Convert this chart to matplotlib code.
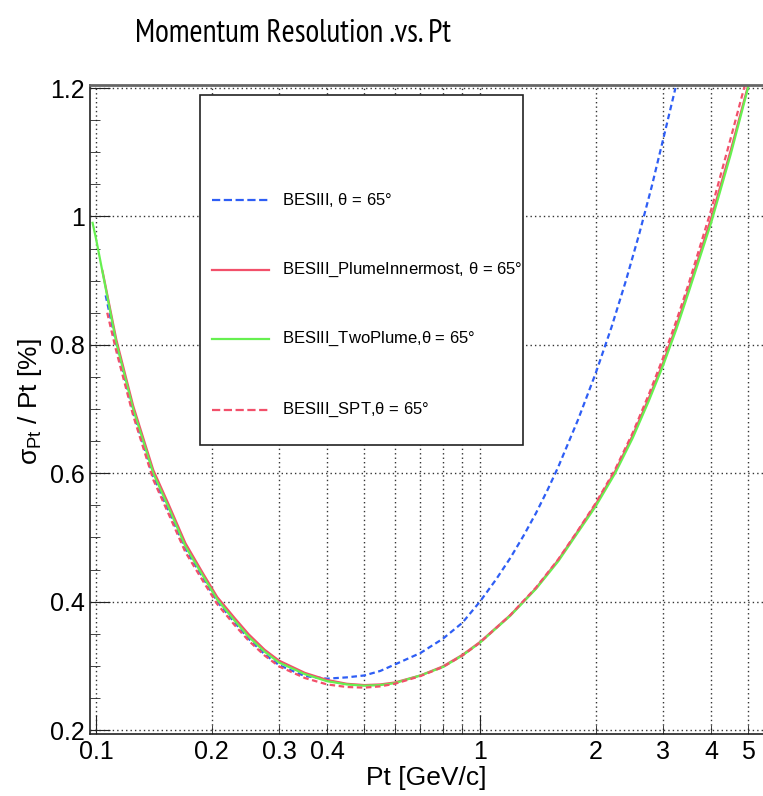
import matplotlib
matplotlib.use("Agg")
import matplotlib.pyplot as plt
from matplotlib import font_manager
from matplotlib.textpath import TextPath
from matplotlib.patches import Rectangle
from matplotlib.lines import Line2D

plt.rcParams['font.family'] = ['Liberation Sans', 'DejaVu Sans']
plt.rcParams['mathtext.fontset'] = 'custom'
plt.rcParams['mathtext.rm'] = 'Liberation Sans'
plt.rcParams['mathtext.it'] = 'Liberation Sans'

# data
pt_bes = [0.106, 0.113, 0.125, 0.141, 0.155, 0.171, 0.19, 0.207, 0.23, 0.25, 0.275, 0.3, 0.35, 0.4,
          0.45, 0.5, 0.55, 0.6, 0.7, 0.8, 0.9, 1.0, 1.1, 1.2, 1.3, 1.4, 1.5, 1.6, 1.8, 2.0, 2.2,
          2.4, 2.6, 2.8, 3.0, 3.23]
res_bes = [0.877, 0.80, 0.695, 0.595, 0.54, 0.482, 0.437, 0.40, 0.367, 0.342, 0.318, 0.301, 0.284, 0.280,
           0.282, 0.285, 0.292, 0.302, 0.32, 0.342, 0.367, 0.40, 0.434, 0.468, 0.503, 0.538, 0.574,
           0.61, 0.683, 0.755, 0.827, 0.90, 0.973, 1.046, 1.12, 1.2]

pt_inner = [0.104, 0.113, 0.125, 0.141, 0.155, 0.171, 0.19, 0.207, 0.23, 0.25, 0.275, 0.3, 0.35, 0.4,
            0.45, 0.5, 0.55, 0.6, 0.7, 0.8, 0.9, 1.0, 1.2, 1.4, 1.6, 1.8, 2.0, 2.25, 2.5, 2.75, 3.0,
            3.25, 3.5, 4.0, 4.5, 5.0]
res_inner = [0.915, 0.808, 0.705, 0.605, 0.55, 0.491, 0.444, 0.407, 0.374, 0.349, 0.325, 0.308, 0.289,
             0.278, 0.272, 0.270, 0.271, 0.274, 0.285, 0.299, 0.317, 0.337, 0.379, 0.421, 0.465, 0.51,
             0.551, 0.603, 0.659, 0.716, 0.772, 0.830, 0.888, 0.997, 1.103, 1.205]

pt_two = [0.098, 0.1, 0.113, 0.125, 0.141, 0.155, 0.171, 0.19, 0.207, 0.23, 0.25, 0.275, 0.3, 0.35,
          0.4, 0.45, 0.5, 0.55, 0.6, 0.7, 0.8, 0.9, 1.0, 1.2, 1.4, 1.6, 1.8, 2.0, 2.25, 2.5, 2.75,
          3.0, 3.25, 3.5, 4.0, 4.5, 5.03]
res_two = [0.99, 0.966, 0.803, 0.70, 0.60, 0.545, 0.486, 0.44, 0.403, 0.37, 0.345, 0.322, 0.305, 0.287,
           0.276, 0.271, 0.269, 0.270, 0.273, 0.285, 0.298, 0.316, 0.336, 0.378, 0.42, 0.463, 0.508,
           0.548, 0.600, 0.655, 0.712, 0.768, 0.825, 0.883, 0.99, 1.097, 1.208]

pt_spt = [0.107, 0.113, 0.125, 0.141, 0.155, 0.171, 0.19, 0.207, 0.23, 0.25, 0.275, 0.3, 0.35, 0.4,
          0.45, 0.5, 0.55, 0.6, 0.7, 0.8, 0.9, 1.0, 1.2, 1.4, 1.6, 1.8, 2.0, 2.25, 2.5, 2.75, 3.0,
          3.25, 3.5, 4.0, 4.5, 4.9]
res_spt = [0.85, 0.79, 0.69, 0.59, 0.535, 0.477, 0.432, 0.396, 0.363, 0.339, 0.316, 0.299, 0.281, 0.271,
           0.267, 0.266, 0.268, 0.272, 0.284, 0.298, 0.316, 0.336, 0.379, 0.422, 0.466, 0.511, 0.553,
           0.606, 0.663, 0.722, 0.780, 0.838, 0.896, 1.01, 1.122, 1.205]

labels = [r'BESIII, $\theta$ = 65°', r'BESIII_PlumeInnermost, $\theta$ = 65°',
          r'BESIII_TwoPlume,$\theta$ = 65°', r'BESIII_SPT,$\theta$ = 65°']
title_text = 'Momentum Resolution .vs. Pt'

x_major = [0.1, 1]
x_minor = [0.2, 0.3, 0.4, 0.5, 0.6, 0.7, 0.8, 0.9, 2, 3, 4, 5]
x_minor_labels = ['0.2', '0.3', '0.4', '', '', '', '', '', '2', '3', '4', '5']
y_major = [0.2, 0.4, 0.6, 0.8, 1.0, 1.2]
y_major_labels = ['0.2', '0.4', '0.6', '0.8', '1', '1.2']

blue = '#2e5ef5'
red = '#f2506a'
green = '#66f050'

fig = plt.figure(figsize=(7.63, 7.96), dpi=100)
ax = fig.add_axes([90/763, 1 - 734/796, 1 - 90/763, (734 - 85)/796])

styles = [
    (pt_bes, res_bes, blue, (0, (2.5, 1.6))),
    (pt_inner, res_inner, red, '-'),
    (pt_two, res_two, green, '-'),
    (pt_spt, res_spt, red, (0, (2.5, 1.6))),
]
lines = []
for x, y, c, ls in styles:
    ln, = ax.plot(x, y, color=c, linestyle=ls, lw=1.6)
    lines.append(ln)

ax.set_xscale('log')
ax.set_xlim(0.0965, 5.46)
ax.set_ylim(0.1938, 1.2047)

ax.set_xticks(x_major, ['0.1', '1'])
ax.set_xticks(x_minor, x_minor_labels, minor=True)
ax.set_yticks(y_major, y_major_labels)
ax.set_yticks([0.25, 0.3, 0.35, 0.45, 0.5, 0.55, 0.65, 0.7, 0.75, 0.85, 0.9, 0.95,
               1.05, 1.1, 1.15], minor=True)

ax.tick_params(axis='both', which='both', direction='in', labelsize=18, color='#222')
ax.tick_params(axis='y', which='major', length=14.4, pad=3.6)
ax.tick_params(axis='y', which='minor', length=7.2)
ax.tick_params(axis='x', which='major', length=13.7, pad=4)
ax.tick_params(axis='x', which='minor', length=6.5, pad=4, labelsize=18)

grid_kw = dict(color='#333', linestyle=(0, (1, 2.2)), lw=1)
ax.grid(True, axis='y', which='major', **grid_kw)
ax.grid(True, axis='x', which='both', **grid_kw)

ax.spines['right'].set_visible(False)
ax.spines['top'].set_color('#666')
ax.spines['top'].set_linewidth(2)
for s in ['left', 'bottom']:
    ax.spines[s].set_color('#222')
    ax.spines[s].set_linewidth(1.2)

# legend box drawn by hand to match the ROOT layout
W, H = 763, 796
fig.add_artist(Rectangle((200/W, 1 - 445/H), 323/W, 350/H, transform=fig.transFigure,
                         facecolor='white', edgecolor='#222', lw=1.2, zorder=5))
row_y = [200, 270, 339, 410]
for ln, lab, yy in zip(lines, labels, row_y):
    fig.add_artist(Line2D([212/W, 269/W], [1 - yy/H] * 2, transform=fig.transFigure,
                          color=ln.get_color(), linestyle=ln.get_linestyle(), lw=1.6, zorder=6))
    fig.text(282/W, 1 - yy/H, lab, fontsize=12, va='center', ha='left', zorder=6)

# title: the reference is a squeezed helvetica (317 px wide, caps 25 px high);
# pick the installed narrow sans face whose width/cap ratio comes closest
wanted = ['Pragati Narrow', 'PT Sans Narrow', 'Roboto Condensed', 'Archivo Narrow',
          'Liberation Sans Narrow', 'Arial Narrow', 'Open Sans Condensed',
          'IBM Plex Sans Condensed', 'Fira Sans Condensed', 'Encode Sans Condensed']
best, best_err = None, None
for f in font_manager.fontManager.ttflist:
    if f.name not in wanted or f.style != 'normal' or f.weight not in (400, 'normal', 'regular'):
        continue
    try:
        fp = font_manager.FontProperties(fname=f.fname, size=100)
        w = TextPath((0, 0), title_text, prop=fp).get_extents().width
        cap = TextPath((0, 0), 'M', prop=fp).get_extents().height
    except Exception:
        continue
    err = abs(w / cap - 317 / 25)
    if best_err is None or err < best_err:
        best, best_err = f.fname, err

if best:
    tprop = font_manager.FontProperties(fname=best, size=24)
else:
    tprop = font_manager.FontProperties(family='Liberation Sans', size=24)
title = fig.text(293/W, 1 - 42/H, title_text, ha='center', va='baseline', fontproperties=tprop)
fig.canvas.draw()
tw = title.get_window_extent().width
title.set_fontsize(24 * 317 / tw)

fig.text(487/W, 1 - 778/H, 'Pt [GeV/c]', fontsize=19, ha='right', va='center')
fig.text(30/W, 1 - 402/H, r'$\sigma_{\mathrm{Pt}}$ / Pt [%]', fontsize=19, rotation=90,
         ha='center', va='center')

fig.savefig('out.png', dpi=100)
